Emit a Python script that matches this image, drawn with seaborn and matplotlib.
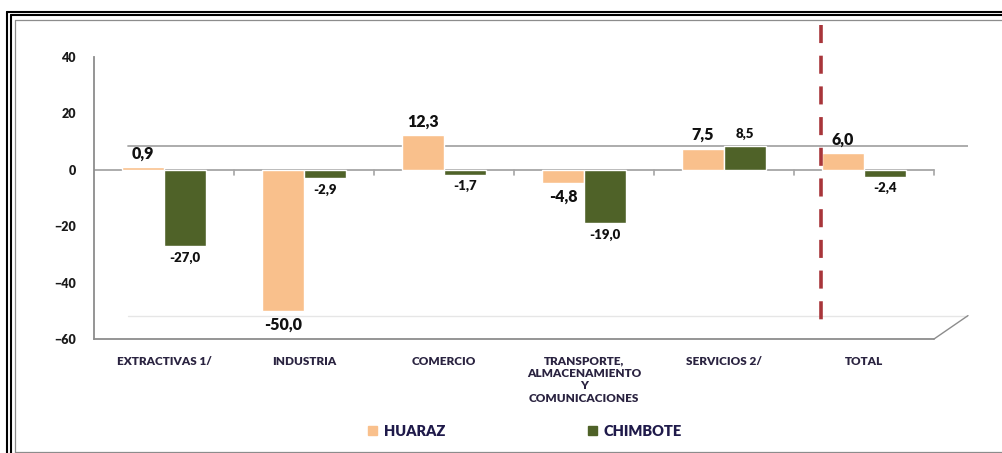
import pandas as pd
import matplotlib.pyplot as plt
import seaborn as sns
from matplotlib.lines import Line2D

# Data
categories = ["EXTRACTIVAS 1/", "INDUSTRIA", "COMERCIO",
              "TRANSPORTE,\nALMACENAMIENTO\nY\nCOMUNICACIONES",
              "SERVICIOS 2/", "TOTAL"]
huaraz = [0.9, -50.0, 12.3, -4.8, 7.5, 6.0]
chimbote = [-27.0, -2.9, -1.7, -19.0, 8.5, -2.4]
series = ["HUARAZ", "CHIMBOTE"]
colors = ["#F9C08C", "#4F6228"]

df = pd.DataFrame({
    "sector": categories * 2,
    "valor": huaraz + chimbote,
    "ciudad": [series[0]] * len(categories) + [series[1]] * len(categories),
})

sns.set_style("white")
plt.rcParams['font.family'] = ['Lato', 'DejaVu Sans']

W, H = 1003, 453
fig = plt.figure(figsize=(W / 100, H / 100), dpi=100)

# axes placed in pixel terms: x 94..968, y 57..339
ax = fig.add_axes([94 / W, 1 - 339 / H, (968 - 94) / W, (339 - 57) / H])
xmax = -0.5 + (968 - 94) / 140

sns.barplot(data=df, x="sector", y="valor", hue="ciudad", palette=colors,
            width=0.6, gap=0, saturation=1, ax=ax, zorder=3, legend=True)

ax.set_ylim(-60, 40)
ax.set_xlim(-0.5, xmax)
ax.set_yticks([-60, -40, -20, 0, 20, 40])
ax.set_xlabel("")
ax.set_ylabel("")

for s in ["top", "right", "bottom"]:
    ax.spines[s].set_visible(False)
ax.spines["left"].set_color("#8C8C8C")
ax.spines["left"].set_linewidth(1.3)

ax.tick_params(axis="y", length=5, color="#8C8C8C", width=1.2, pad=8,
               labelsize=9, labelcolor="#1A1A1A")
for t in ax.get_yticklabels():
    t.set_fontweight("heavy")
ax.tick_params(axis="x", length=0, pad=12, labelsize=8.5, labelcolor="#2A2340")
for t in ax.get_xticklabels():
    t.set_fontweight("heavy")
    t.set_linespacing(1.15)

# pseudo-3D walls and floor lines
off = 8.3
xb = -0.5 + 34 / 140
ax.plot([-0.5, 5.5], [-60, -60], color="#8C8C8C", lw=1.3, zorder=2, clip_on=False)
ax.plot([5.5, xmax], [-60, -60 + off], color="#8C8C8C", lw=1.0, zorder=2, clip_on=False)
ax.plot([xb, xmax], [-60 + off, -60 + off], color="#E6E6E6", lw=1.0, zorder=1)
ax.plot([xb, xmax], [off, off], color="#A6A6A6", lw=1.3, zorder=1)
ax.plot([-0.5, 5.5], [0, 0], color="#A6A6A6", lw=1.3, zorder=2)
for xt in [0.5, 1.5, 2.5, 3.5, 4.5, 5.5]:
    ax.plot([xt, xt], [0, -1.8], color="#A6A6A6", lw=1.2, zorder=2)

# red dashed separator before TOTAL
xs = -0.5 + (821 - 94) / 140
ax.plot([xs, xs], [51.3, -54], color="#A8353A", lw=2.6, ls=(0, (5, 3.5)),
        zorder=4, clip_on=False)

# value labels
fmt = lambda v: f"{v:.1f}".replace(".", ",")
ax.bar_label(ax.containers[0], labels=[fmt(v) for v in huaraz], padding=4,
             fontsize=11.5, fontweight="heavy", color="#111111")
ax.bar_label(ax.containers[1], labels=[fmt(v) for v in chimbote], padding=4,
             fontsize=9.5, fontweight="heavy", color="#111111")

# legend at bottom
ax.get_legend().remove()
handles = [plt.Rectangle((0, 0), 1, 1, color=c) for c in colors]
leg = fig.legend(handles, series, loc="center", bbox_to_anchor=(525 / W, 1 - 431 / H),
                 ncol=2, frameon=False, handlelength=0.6, handleheight=0.6,
                 handletextpad=0.45, columnspacing=9.8,
                 prop={"size": 10.5, "weight": "heavy"})
for t in leg.get_texts():
    t.set_color("#1F1A4A")

# double frame around the chart
def fl(x0, y0, x1, y1, c, lw):
    fig.add_artist(Line2D([x0 / W, x1 / W], [1 - y0 / H, 1 - y1 / H],
                          transform=fig.transFigure, color=c, lw=lw))

fl(7, 12, W, 12, "black", 1.5)
fl(7, 12, 7, H, "black", 1.5)
fl(11, 15, W, 15, "black", 1.5)
fl(11, 15, 11, H, "black", 1.5)
fl(15.5, 19.5, W, 19.5, "#8C8C8C", 0.9)
fl(15.5, 19.5, 15.5, H, "#8C8C8C", 0.9)
fl(15.5, 451.5, W, 451.5, "#8C8C8C", 0.9)

fig.savefig("out.png", dpi=100)
